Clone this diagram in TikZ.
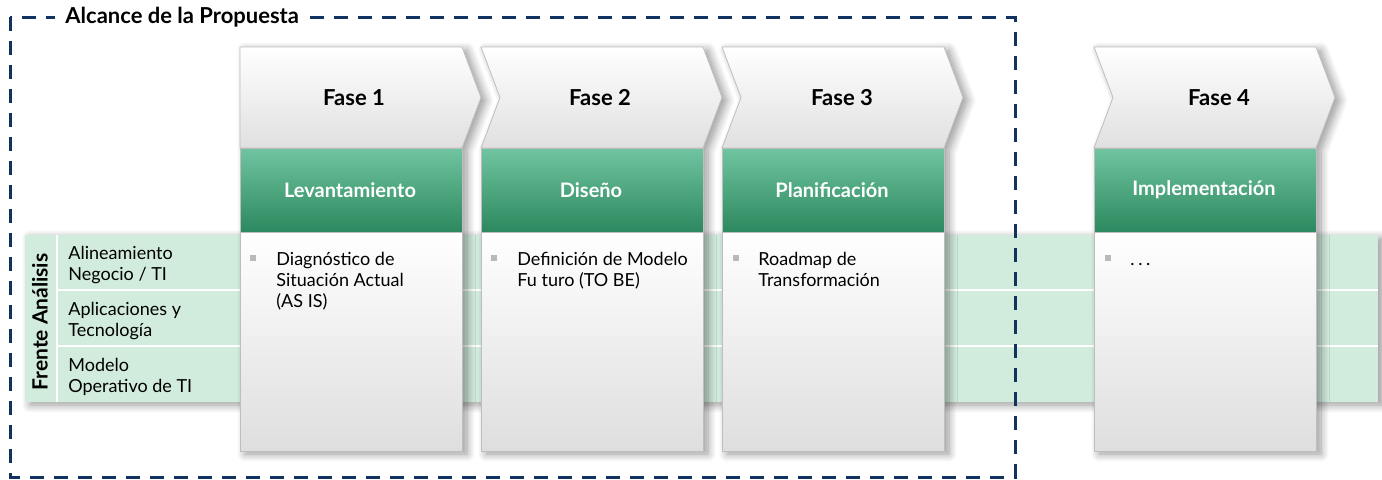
\documentclass[tikz,border=0pt]{standalone}
\usepackage{fontspec}
\setmainfont{Lato}
\usetikzlibrary{shadows.blur}

\definecolor{navy}{RGB}{18,50,96}
\definecolor{bandgreen}{RGB}{209,235,221}
\definecolor{hdrtop}{RGB}{112,197,160}
\definecolor{hdrbot}{RGB}{44,136,94}
\definecolor{chevgray}{RGB}{224,224,224}
\definecolor{bodygray}{RGB}{222,222,222}
\definecolor{edgegray}{RGB}{190,190,190}

\tikzset{
  colshadow/.style={blur shadow={shadow xshift=2.5pt, shadow yshift=-1.5pt,
      shadow blur radius=4pt, shadow blur steps=10, shadow opacity=40}},
  chevron/.style={draw=edgegray, line width=0.4pt, top color=white, bottom color=chevgray},
  hdrbox/.style={draw=edgegray, line width=0.4pt, top color=hdrtop, bottom color=hdrbot},
  bodybox/.style={draw=edgegray, line width=0.4pt, top color=white, bottom color=bodygray},
  fasetxt/.style={font=\bfseries\fontsize{11}{13}\selectfont},
  hdrtxt/.style={text=white, font=\bfseries\fontsize{10}{12}\selectfont},
  bultxt/.style={anchor=north west, inner sep=0pt, align=left,
      font=\fontsize{9}{10.5}\selectfont},
  bulsq/.style={fill=gray!55, inner sep=0pt, minimum size=2.6pt},
  rowtxt/.style={anchor=west, inner sep=0pt, align=left,
      font=\fontsize{9}{10.5}\selectfont},
  sepline/.style={white, line width=1pt},
  dashbox/.style={navy, line width=1.5pt, dash pattern=on 7pt off 5pt},
}

\begin{document}
\begin{tikzpicture}[x=0.5pt, y=-0.5pt]

    \useasboundingbox (0,0) rectangle (1382,479);

    % frente de analisis (green band)
    \path[fill=bandgreen, colshadow] (25,235) rectangle (1378,402);
    \draw[sepline] (57,235) -- (57,402);
    \draw[sepline] (57,290) -- (1378,290);
    \draw[sepline] (57,346) -- (1378,346);
    \node[rotate=90, font=\bfseries\fontsize{10.5}{12}\selectfont] (frente) at (40,322) {Frente Análisis};
    \node[rowtxt] (row1) at (68,265.5) {Alineamiento\\Negocio / TI};
    \node[rowtxt] (row2) at (68,321) {Aplicaciones y\\Tecnología};
    \node[rowtxt] (row3) at (68,377) {Modelo\\Operativo de TI};

    % column shadows
    \path[fill=white, colshadow] (240,47) -- (462,47) -- (481,97.5) -- (462,148) -- (462,451) -- (240,451) -- cycle;
    \path[fill=white, colshadow] (481,47) -- (703,47) -- (722,97.5) -- (703,148) -- (703,451) -- (481,451) -- (481,148) -- (500,97.5) -- cycle;
    \path[fill=white, colshadow] (722,47) -- (944,47) -- (963,97.5) -- (944,148) -- (944,451) -- (722,451) -- (722,148) -- (741,97.5) -- cycle;
    \path[fill=white, colshadow] (1094,47) -- (1316,47) -- (1335,97.5) -- (1316,148) -- (1316,451) -- (1094,451) -- (1094,148) -- (1113,97.5) -- cycle;

    % fase 1
    \shade[chevron] (240,47) -- (462,47) -- (481,97.5) -- (462,148) -- (240,148) -- cycle;
    \shade[hdrbox] (240,148) rectangle (462,232);
    \shade[bodybox] (240,232) rectangle (462,451);
    \node[fasetxt] (fase1) at (354,97.5) {Fase 1};
    \node[hdrtxt] (lev) at (350,190) {Levantamiento};
    \node[bulsq] (bul1) at (253,258) {};
    \node[bultxt] (txt1) at (276,252) {Diagnóstico de\\Situación Actual\\(AS IS)};

    % fase 2
    \shade[chevron] (481,47) -- (703,47) -- (722,97.5) -- (703,148) -- (481,148) -- (500,97.5) -- cycle;
    \shade[hdrbox] (481,148) rectangle (703,232);
    \shade[bodybox] (481,232) rectangle (703,451);
    \node[fasetxt] (fase2) at (600,97.5) {Fase 2};
    \node[hdrtxt] (dis) at (591,190) {Diseño};
    \node[bulsq] (bul2) at (494,258) {};
    \node[bultxt] (txt2) at (517,252) {Definición de Modelo\\Fu turo (TO BE)};

    % fase 3
    \shade[chevron] (722,47) -- (944,47) -- (963,97.5) -- (944,148) -- (722,148) -- (741,97.5) -- cycle;
    \shade[hdrbox] (722,148) rectangle (944,232);
    \shade[bodybox] (722,232) rectangle (944,451);
    \node[fasetxt] (fase3) at (842,97.5) {Fase 3};
    \node[hdrtxt] (plan) at (832,190) {Planificación};
    \node[bulsq] (bul3) at (736,258) {};
    \node[bultxt] (txt3) at (758,252) {Roadmap de\\Transformación};

    % fase 4
    \shade[chevron] (1094,47) -- (1316,47) -- (1335,97.5) -- (1316,148) -- (1094,148) -- (1113,97.5) -- cycle;
    \shade[hdrbox] (1094,148) rectangle (1316,232);
    \shade[bodybox] (1094,232) rectangle (1316,451);
    \node[fasetxt] (fase4) at (1219,97.5) {Fase 4};
    \node[hdrtxt] (impl) at (1204,190) {Implementación};
    \node[bulsq] (bul4) at (1108,258) {};
    \node[bultxt] (txt4) at (1130,252) {\vphantom{d}.\hspace{1.8pt}.\hspace{1.8pt}.};

    % alcance de la propuesta
    \draw[dashbox] (10,17) rectangle (1015,477);
    \node[anchor=west, fill=white, inner xsep=5pt, inner ysep=1pt,
          font=\bfseries\fontsize{11}{13}\selectfont] (alcance) at (55,17) {Alcance de la Propuesta};

\end{tikzpicture}
\end{document}
